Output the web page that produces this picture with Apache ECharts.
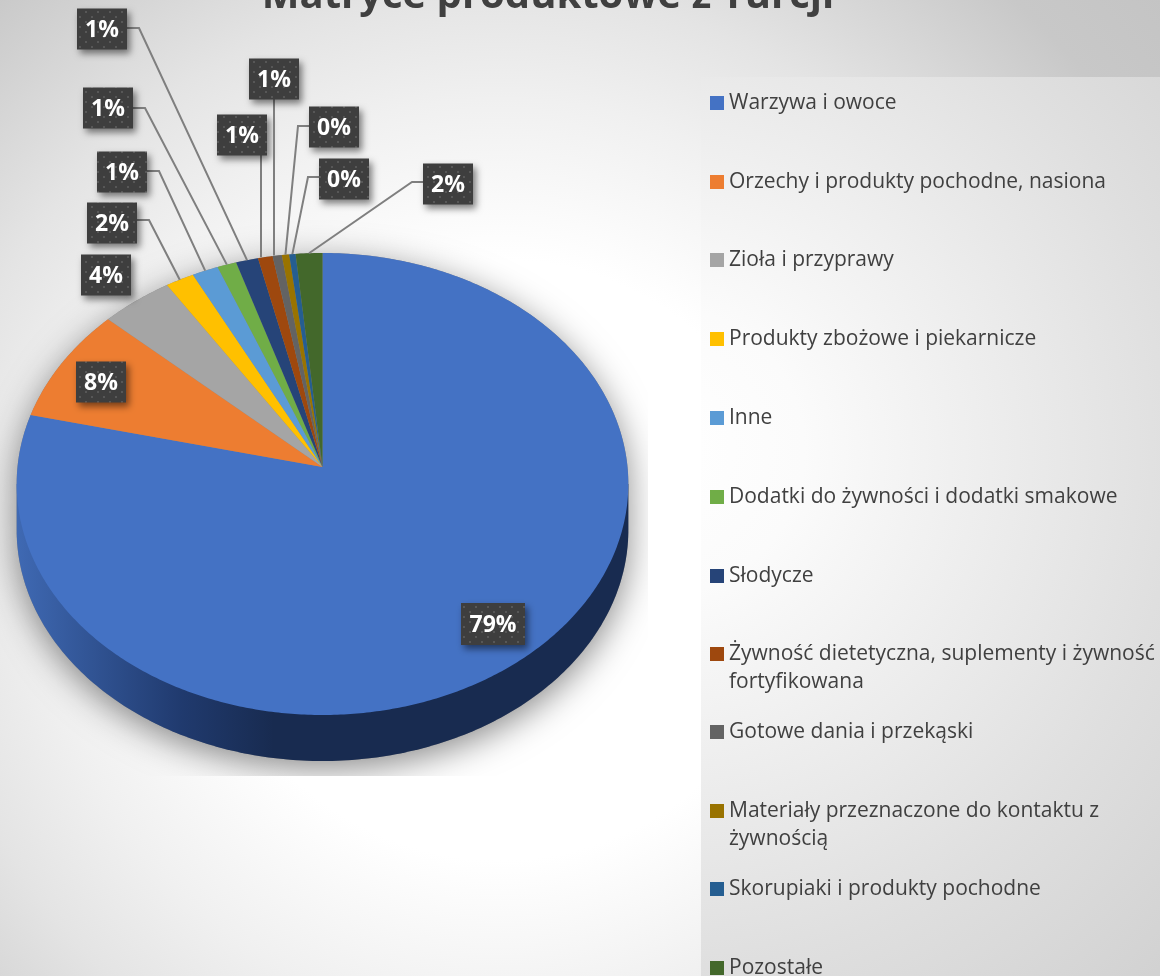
<!DOCTYPE html>
<html><head><meta charset="utf-8">
<style>html,body{margin:0;padding:0;background:#fff}#c{width:1160px;height:976px}</style>
<script src="https://cdn.jsdelivr.net/npm/echarts@6/dist/echarts.min.js"></script>
</head><body><div id="c"></div>
<script>
var titleText = 'Matryce produktowe z Turcji';
var categories = ['Warzywa i owoce','Orzechy i produkty pochodne, nasiona','Zioła i przyprawy','Produkty zbożowe i piekarnicze','Inne','Dodatki do żywności i dodatki smakowe','Słodycze','Żywność dietetyczna, suplementy i żywność fortyfikowana','Gotowe dania i przekąski','Materiały przeznaczone do kontaktu z żywnością','Skorupiaki i produkty pochodne','Pozostałe'];
var shares = [78.7,8.1,4.1,1.63,1.49,1.09,1.26,0.83,0.52,0.42,0.36,1.51];
var colors = ['#4472c4','#ed7d31','#a5a5a5','#ffc000','#5b9bd5','#70ad47','#264478','#9e480e','#636363','#997300','#255e91','#43682b'];
var wrapped = {'Żywność dietetyczna, suplementy i żywność fortyfikowana':'Żywność dietetyczna, suplementy i żywność\nfortyfikowana','Materiały przeznaczone do kontaktu z żywnością':'Materiały przeznaczone do kontaktu z\nżywnością'};
var legendRowY = [103,182,260,339,418,497,576,654,732,811,889,968];
// label box centres and which side the leader leaves from
var labelBox = [[493,624,64,42,null],[101,382,50,41,null],[106,275,50,41,null],[112,223,50,41,'r'],[122,172,50,41,'r'],[108,108,50,41,'r'],[102,29,50,41,'r'],[242,135,50,41,'b'],[274,79,50,41,'b'],[334,127,50,41,'l'],[344,179,50,41,'l'],[448,184,50,41,'l']];
var leaderBox = [null,null,null,[137,220],[147,171],[133,108],[127,28],[261,155],[274,99],[309,126],[319,177],[423,182]];

var P = {cx:322.5, cy:467, R:305, B:229.75, k:0.0736, depth:46};
function rim(t, dy){
  var d = 1 + P.k*Math.cos(t);
  return [P.cx + P.R*Math.sin(t)/d, P.cy - P.B*Math.cos(t)/d + (dy||0)];
}
function face(a0, a1){
  var pts = [[P.cx,P.cy]], n = Math.max(2, Math.ceil((a1-a0)/0.01));
  for (var i=0;i<=n;i++) pts.push(rim(a0+(a1-a0)*i/n));
  return pts;
}
var total = shares.reduce(function(a,b){return a+b;},0);
var cum = [0]; shares.forEach(function(v,i){cum.push(cum[i]+v);});
function ang(v){return v/total*Math.PI*2;}

var tile = document.createElement('canvas'); tile.width=12; tile.height=10;
(function(){var g=tile.getContext('2d');g.fillStyle='#3e3e3e';g.fillRect(0,0,12,10);g.fillStyle='#575757';g.fillRect(1,1,2,2);g.fillRect(7,6,2,2);})();

function sideElements(){
  var aR = Math.acos(-P.k), aL = 2*Math.PI-aR, pts=[rim(aR)], i;
  for (i=0;i<=200;i++) pts.push(rim(aR+(aL-aR)*i/200, P.depth));
  pts.push(rim(aL));
  var outline = [];
  for (i=0;i<=300;i++) outline.push(rim(aR+(aL-aR)*i/300, P.depth));
  for (i=0;i<=300;i++) outline.push(rim(aL+(2*Math.PI-aL+aR)*i/300, 0));
  return [
    {type:'group', clipPath:{type:'rect',shape:{x:0,y:0,width:648,height:776}}, children:[
      {type:'polygon', shape:{points:outline}, style:{fill:'#888', shadowBlur:34, shadowColor:'rgba(0,0,0,0.46)', shadowOffsetY:8}}
    ]},
    {type:'polygon', shape:{points:pts}, style:{fill:{type:'linear',global:true,x:17,y:0,x2:628,y2:0,colorStops:[{offset:0,color:'#3f69b3'},{offset:0.27,color:'#203a6e'},{offset:0.42,color:'#182b50'},{offset:1,color:'#182b50'}]}}}
  ];
}
function makeItem(idx){
  return function(params, api){
    var a0 = ang(cum[idx]), a1 = a0 + ang(api.value(0));
    var kids = idx===0 ? sideElements() : [];
    kids.push({type:'polygon', shape:{points:face(a0,a1)}, style:{fill:colors[idx]}});
    return {type:'group', children:kids};
  };
}
function labelItem(idx){
  return function(params, api){
    var a0 = ang(cum[idx]), a1 = a0 + ang(api.value(0)), kids=[];
    var b = labelBox[idx], lb = leaderBox[idx];
    if (lb){
      var end = rim((a0+a1)/2), pts=[lb];
      if (b[4]==='r') pts.push([lb[0]+12,lb[1]]);
      if (b[4]==='l') pts.push([lb[0]-11,lb[1]]);
      if (b[4]==='b') end=[lb[0],end[1]];
      pts.push(end);
      kids.push({type:'polyline', shape:{points:pts}, style:{stroke:'#7f7f7f',lineWidth:2,fill:null}});
    }
    kids.push({type:'rect', shape:{x:b[0]-b[2]/2,y:b[1]-b[3]/2,width:b[2],height:b[3]},
      style:{fill:{image:tile,repeat:'repeat'},shadowBlur:7,shadowOffsetX:3,shadowOffsetY:4,shadowColor:'rgba(0,0,0,0.5)'}});
    kids.push({type:'text', style:{x:b[0],y:b[1]+1,text:Math.round(api.value(0)/total*100)+'%',fill:'#fff',align:'center',verticalAlign:'middle',font:'bold 23px "Open Sans"'}});
    return {type:'group', children:kids};
  };
}
var series = [];
categories.forEach(function(n,i){
  series.push({type:'custom',name:n,coordinateSystem:'none',silent:true,animation:false,itemStyle:{color:colors[i]},renderItem:makeItem(i),data:[[shares[i]]],z:2});
});
categories.forEach(function(n,i){
  series.push({type:'custom',name:n+' (etykieta)',coordinateSystem:'none',silent:true,animation:false,renderItem:labelItem(i),data:[[shares[i]]],z:3});
});
var legends = categories.map(function(n,i){
  var two = !!wrapped[n];
  return {show:true,data:[n],left:710,top:legendRowY[i]-(two?42:14),padding:0,itemWidth:14,itemHeight:14,icon:'rect',selectedMode:false,
    formatter:function(name){return wrapped[name]?'\n'+wrapped[name]:name;},
    textStyle:{color:'#404040',fontFamily:'"Open Sans"',fontSize:21,lineHeight:28}};
});
var chart = echarts.init(document.getElementById('c'),null,{renderer:'canvas'});
chart.setOption({
  animation:false,
  backgroundColor:{type:'radial',global:true,x:500,y:560,r:870,colorStops:[{offset:0,color:'#fff'},{offset:0.345,color:'#fff'},{offset:0.53,color:'#f0f0f0'},{offset:0.655,color:'#e4e4e4'},{offset:0.874,color:'#c8c8c8'},{offset:1,color:'#c4c4c4'}]},
  title:{text:titleText,left:548,textAlign:'center',top:-23,padding:0,textStyle:{color:'#404040',fontFamily:'"Open Sans"',fontWeight:'bold',fontSize:40}},
  graphic:[{type:'rect',z:-10,silent:true,shape:{x:701,y:77,width:459,height:899},style:{fill:{type:'radial',global:true,x:660,y:450,r:720,colorStops:[{offset:0,color:'#fff'},{offset:0.2,color:'#fbfbfb'},{offset:0.72,color:'#dfdfdf'},{offset:1,color:'#d2d2d2'}]}}}],
  legend:legends,
  series:series
});
</script></body></html>
